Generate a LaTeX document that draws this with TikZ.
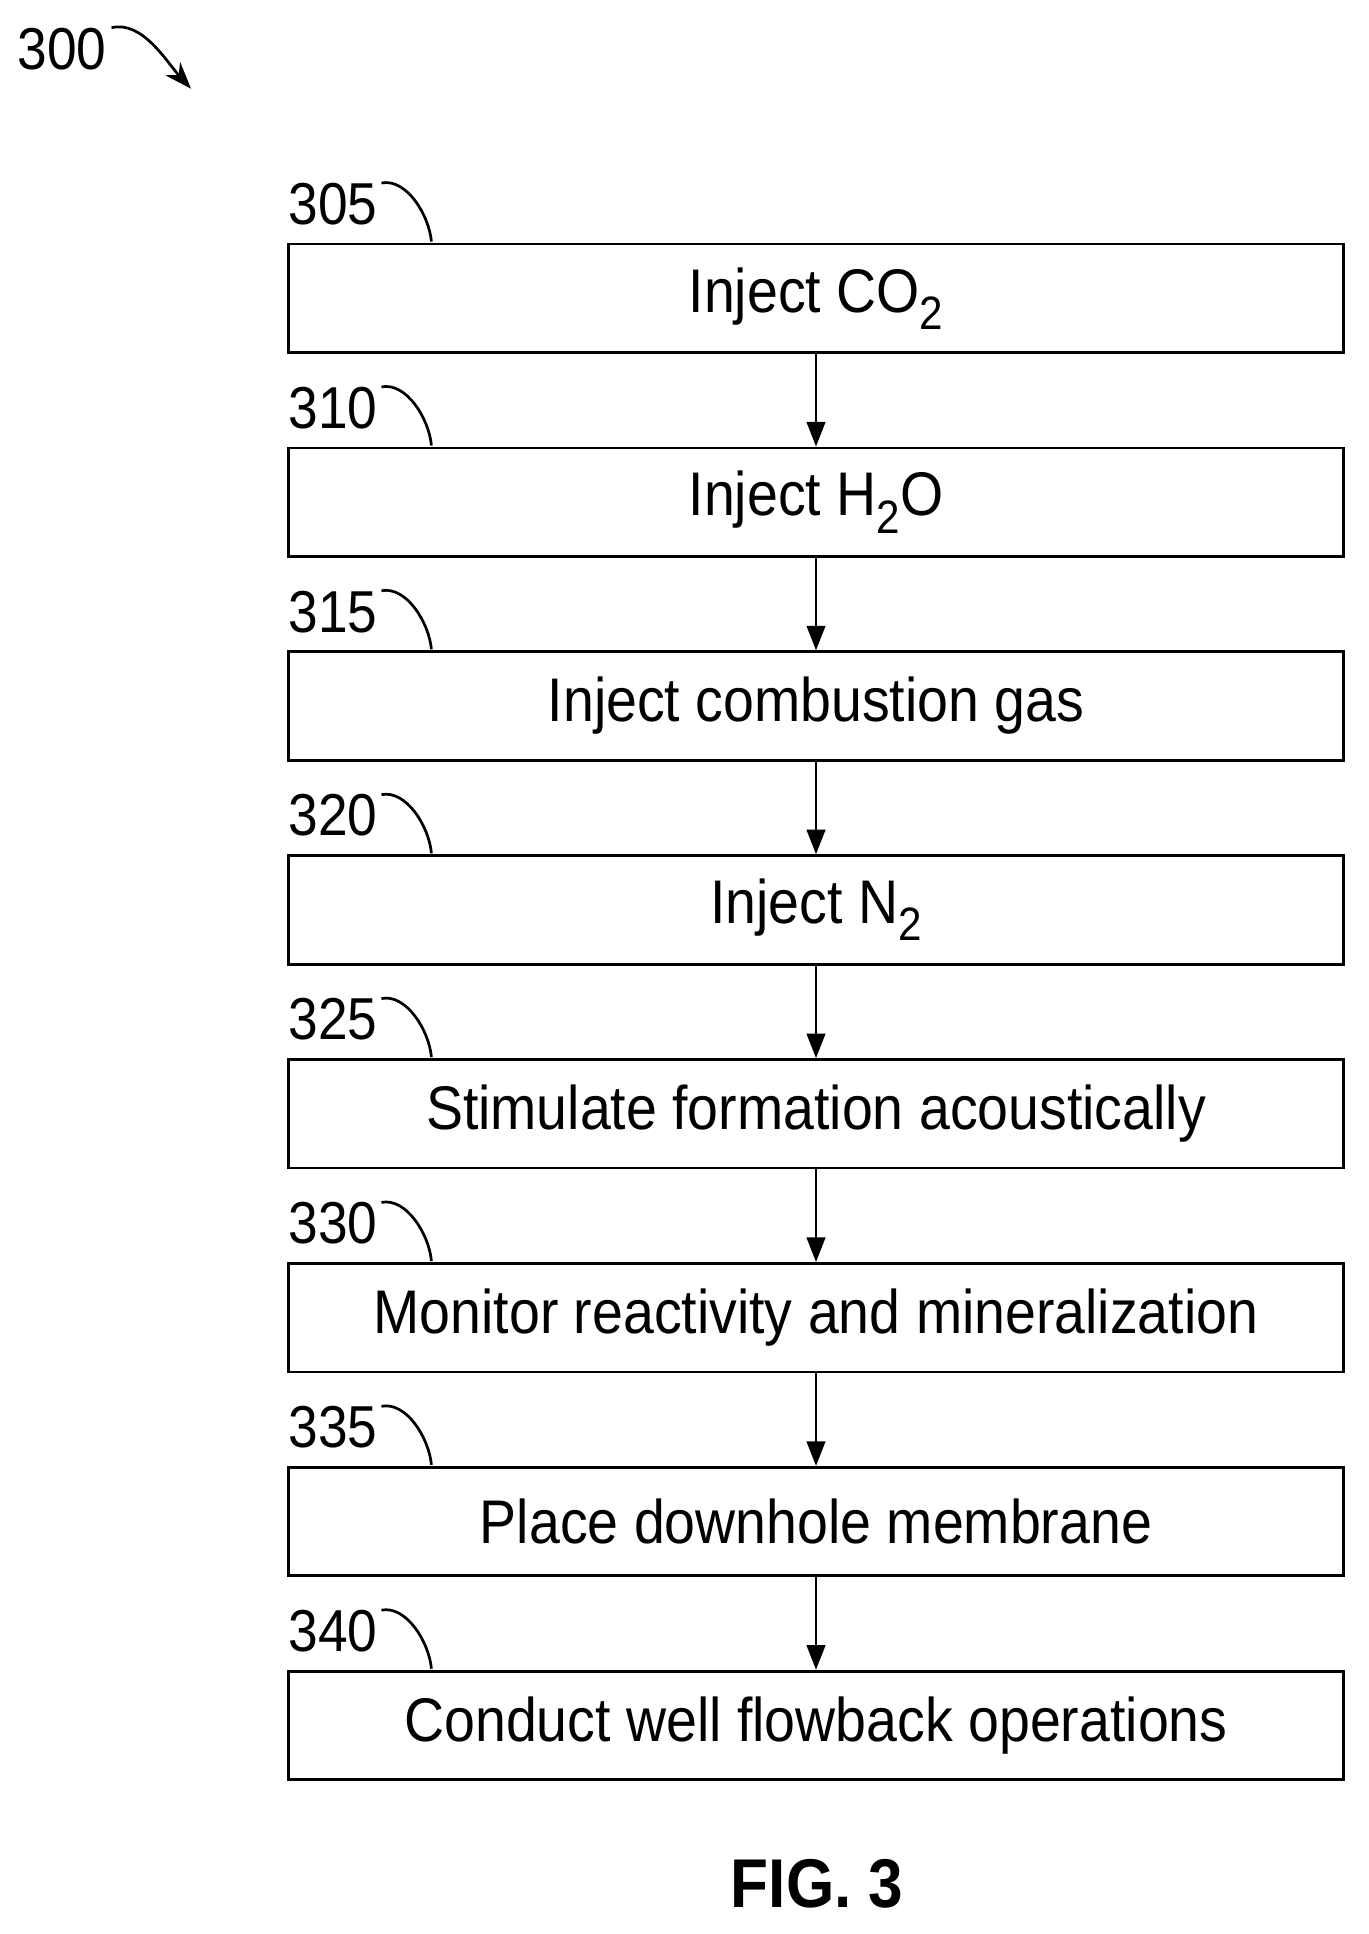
\documentclass[tikz,border=0pt]{standalone}
\usepackage{fontspec}
\setmainfont{Liberation Sans}[FakeStretch=0.9]
\usetikzlibrary{arrows.meta}
\newcommand\subtwo{\raisebox{-0.28em}{\fontsize{38}{40}\selectfont 2}}
\begin{document}
\begin{tikzpicture}[x=1pt,y=-1pt,
  box/.style={draw,line width=2.3pt,minimum width=856pt,minimum height=88pt,inner sep=0pt,font=\fontsize{50}{52}\selectfont},
  num/.style={font=\fontsize{48}{50}\selectfont,anchor=base west,inner sep=0pt},
  hook/.style={line width=2.2pt},
  arr/.style={line width=2.3pt,-{Triangle[length=20pt,width=15pt]}}]
\useasboundingbox (0,0) rectangle (1110,1569);
\foreach \t [count=\i] in {Inject CO\subtwo,Inject H\subtwo O,Inject combustion gas,Inject N\subtwo,Stimulate formation acoustically,Monitor reactivity and mineralization,Place downhole membrane,Conduct well flowback operations}{
  \pgfmathsetmacro\yy{242+165.4*(\i-1)}
  \pgfmathtruncatemacro\nn{300+5*\i}
  \node[box] (b\i) at (662,\yy) {\t};
  \node[num] (n\i) at (234,\yy-60) {\nn};
  \coordinate (h\i) at (350,\yy-46);
  \draw[hook] (n\i.east) ++(3,-17) .. controls +(20,-4) and +(-2,-22) .. (h\i);
}
\foreach \i [evaluate=\i as \j using int(\i+1)] in {1,...,7}{
  \draw[arr] (b\i) -- (b\j);
}
\node[font=\fontsize{48}{50}\selectfont,anchor=base west,inner sep=0pt] (n300) at (14,56) {300};
\coordinate (a300) at (155,72);
\draw[line width=2.2pt,-{Stealth[length=22pt,width=16pt]}] (n300.east) ++(4,-17) .. controls +(25,-6) and +(-20,-22) .. (a300);
\node[font=\bfseries\fontsize{56}{60}\selectfont] (fig) at (663,1528) {FIG. 3};
\end{tikzpicture}
\end{document}
